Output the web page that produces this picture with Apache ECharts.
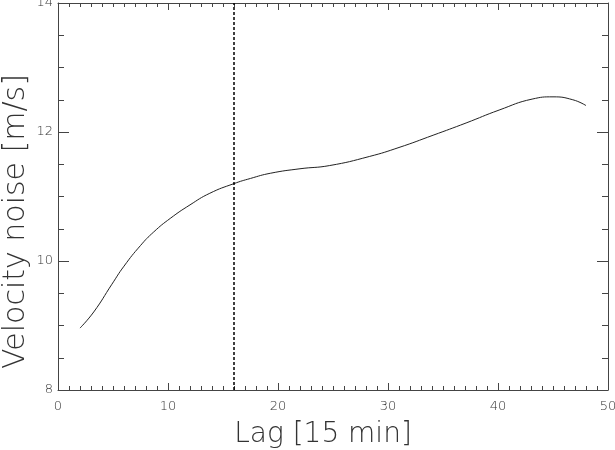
<!DOCTYPE html>
<html>
<head>
<meta charset="utf-8">
<script src="https://cdn.jsdelivr.net/npm/echarts@6/dist/echarts.min.js"></script>
<style>
  html, body { margin: 0; padding: 0; background: #fff; }
  #chart { width: 615px; height: 450px; }
</style>
</head>
<body>
<div id="chart"></div>
<script>
// lag in units of 15 min, velocity noise in m/s
var lags = [2, 3.25, 4.9, 6, 7.5, 8.7, 10.2, 12, 13.8, 16, 17.5, 19.3, 22, 24.7, 28.3, 31, 34.1, 37.1, 40.1, 43.1, 45, 46.8, 48];
var noise = [8.96, 9.21, 9.64, 9.92, 10.24, 10.45, 10.66, 10.87, 11.05, 11.20, 11.28, 11.36, 11.43, 11.48, 11.62, 11.76, 11.95, 12.14, 12.34, 12.51, 12.545, 12.50, 12.41];
var markLag = 16;
var xTicks = { min: 0, max: 50, step: 10 };
var yTicks = { min: 8, max: 14, step: 2 };

var points = lags.map(function (v, i) { return [v, noise[i]]; });

var chart = echarts.init(document.getElementById('chart'));

var axisColor = '#444';
var labelFont = { color: '#333', fontSize: 13, fontFamily: 'DejaVu Sans', fontWeight: 300 };

function xAxisDef(pos, withLabels) {
    return {
        type: 'value',
        position: pos,
        min: xTicks.min, max: xTicks.max, interval: xTicks.step,
        axisLine: { show: true, onZero: false, lineStyle: { color: axisColor, width: 1 } },
        axisTick: { show: true, inside: true, length: 7, lineStyle: { color: axisColor } },
        minorTick: { show: true, splitNumber: 10, length: 4, lineStyle: { color: axisColor } },
        axisLabel: Object.assign({ show: withLabels, margin: 10 }, labelFont),
        splitLine: { show: false },
        name: withLabels ? 'Lag [15 min]' : '',
        nameLocation: 'middle',
        nameGap: 31,
        nameMoveOverlap: false,
        nameTextStyle: { fontSize: 28, color: '#333', fontFamily: 'DejaVu Sans', fontWeight: 200, padding: [0, 20, 0, 0] }
    };
}

function yAxisDef(pos, withLabels) {
    return {
        type: 'value',
        position: pos,
        min: yTicks.min, max: yTicks.max, interval: yTicks.step,
        axisLine: { show: true, onZero: false, lineStyle: { color: axisColor, width: 1 } },
        axisTick: { show: true, inside: true, length: 11, lineStyle: { color: axisColor } },
        minorTick: { show: true, splitNumber: 4, length: 6, lineStyle: { color: axisColor } },
        axisLabel: Object.assign({ show: withLabels, margin: 5 }, labelFont),
        splitLine: { show: false },
        name: withLabels ? 'Velocity noise [m/s]' : '',
        nameLocation: 'middle',
        nameGap: 27,
        nameMoveOverlap: false,
        nameTextStyle: { fontSize: 30, color: '#333', fontFamily: 'DejaVu Sans', fontWeight: 200, padding: [0, 50, 0, 0] }
    };
}

var option = {
    backgroundColor: '#fff',
    animation: false,
    grid: { left: 58, right: 7, top: 3, bottom: 60, containLabel: false, outerBoundsMode: 'none' },
    xAxis: [xAxisDef('bottom', true), xAxisDef('top', false)],
    yAxis: [yAxisDef('left', true), yAxisDef('right', false)],
    series: [
        {
            type: 'line',
            data: points,
            smooth: 0.5,
            showSymbol: false,
            lineStyle: { color: '#222', width: 1 },
            markLine: {
                silent: true,
                symbol: 'none',
                label: { show: false },
                lineStyle: { color: '#000', width: 1.5, type: [3, 2] },
                data: [{ xAxis: markLag }]
            }
        }
    ]
};

chart.setOption(option);
</script>
</body>
</html>
